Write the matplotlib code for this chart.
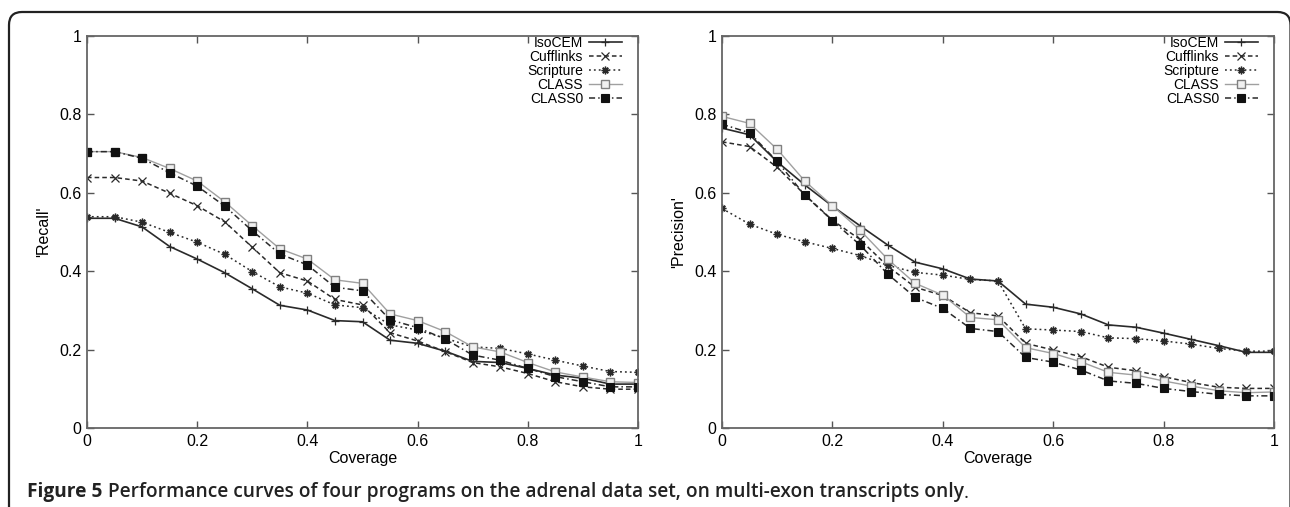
import matplotlib
matplotlib.use("Agg")
import matplotlib.pyplot as plt
from matplotlib.patches import FancyBboxPatch
from matplotlib.transforms import IdentityTransform

###
### Data
###
coverage = [0.00, 0.05, 0.10, 0.15, 0.20, 0.25, 0.30, 0.35, 0.40, 0.45, 0.50,
            0.55, 0.60, 0.65, 0.70, 0.75, 0.80, 0.85, 0.90, 0.95, 1.00]

names = ["IsoCEM", "Cufflinks", "Scripture", "CLASS", "CLASS0"]

recall_isocem    = [0.535, 0.535, 0.513, 0.463, 0.431, 0.396, 0.355, 0.313, 0.301, 0.274, 0.271,
                    0.224, 0.216, 0.196, 0.170, 0.167, 0.152, 0.135, 0.127, 0.112, 0.112]
recall_cufflinks = [0.639, 0.639, 0.630, 0.599, 0.567, 0.526, 0.461, 0.396, 0.375, 0.328, 0.314,
                    0.243, 0.222, 0.195, 0.167, 0.156, 0.139, 0.118, 0.105, 0.099, 0.099]
recall_scripture = [0.539, 0.539, 0.525, 0.499, 0.474, 0.443, 0.399, 0.360, 0.344, 0.314, 0.307,
                    0.263, 0.250, 0.229, 0.207, 0.203, 0.189, 0.173, 0.158, 0.144, 0.142]
recall_class     = [0.705, 0.705, 0.690, 0.662, 0.630, 0.577, 0.516, 0.457, 0.431, 0.378, 0.369,
                    0.291, 0.274, 0.246, 0.207, 0.194, 0.167, 0.143, 0.130, 0.118, 0.116]
recall_class0    = [0.705, 0.705, 0.688, 0.651, 0.617, 0.566, 0.503, 0.444, 0.416, 0.359, 0.350,
                    0.276, 0.256, 0.227, 0.186, 0.173, 0.152, 0.131, 0.118, 0.105, 0.105]

prec_isocem    = [0.765, 0.748, 0.679, 0.620, 0.566, 0.516, 0.467, 0.423, 0.406, 0.380, 0.375,
                  0.316, 0.308, 0.291, 0.263, 0.257, 0.242, 0.226, 0.210, 0.193, 0.193]
prec_cufflinks = [0.730, 0.718, 0.665, 0.595, 0.530, 0.481, 0.413, 0.359, 0.338, 0.294, 0.286,
                  0.216, 0.199, 0.182, 0.155, 0.146, 0.131, 0.116, 0.104, 0.101, 0.101]
prec_scripture = [0.560, 0.520, 0.494, 0.475, 0.458, 0.440, 0.415, 0.397, 0.390, 0.379, 0.375,
                  0.253, 0.250, 0.246, 0.230, 0.228, 0.222, 0.214, 0.203, 0.196, 0.196]
prec_class     = [0.795, 0.777, 0.711, 0.630, 0.567, 0.505, 0.431, 0.369, 0.339, 0.282, 0.276,
                  0.205, 0.190, 0.169, 0.142, 0.135, 0.120, 0.107, 0.095, 0.090, 0.092]
prec_class0    = [0.775, 0.753, 0.680, 0.594, 0.529, 0.467, 0.393, 0.333, 0.305, 0.254, 0.246,
                  0.180, 0.168, 0.148, 0.120, 0.114, 0.101, 0.093, 0.086, 0.082, 0.082]

ticks = [0, 0.2, 0.4, 0.6, 0.8, 1]
tick_labels = ["0", "0.2", "0.4", "0.6", "0.8", "1"]

###
### Styles
###
styles = [
    dict(color="#2a2a2a", lw=1.2, ls="-", marker="+", ms=6, mew=0.9),
    dict(color="#2a2a2a", lw=1.1, ls=(0, (3, 2)), marker="x", ms=6, mew=0.9),
    dict(color="#2a2a2a", lw=1.1, ls=(0, (1.2, 2)), marker=(8, 2, 0), ms=5.5, mew=1.0),
    dict(color="#a0a0a0", lw=1.0, ls="-", marker="s", ms=6, mew=1.0,
         mfc="#f0f0f0", mec="#808080"),
    dict(color="#2a2a2a", lw=1.1, ls=(0, (4, 2, 1, 2)), marker="s", ms=6, mew=0.8,
         mfc="#111111", mec="#111111"),
]

plots = [
    {"ylabel": "'Recall'",
     "series": [recall_isocem, recall_cufflinks, recall_scripture, recall_class, recall_class0],
     "rect": [87/1290, 79/507, 551/1290, 392/507]},
    {"ylabel": "'Precision'",
     "series": [prec_isocem, prec_cufflinks, prec_scripture, prec_class, prec_class0],
     "rect": [722/1290, 79/507, 552/1290, 392/507]},
]

tfont = ["Liberation Sans", "DejaVu Sans"]
tsize = 11.5

fig = plt.figure(figsize=(12.9, 5.07), dpi=100)

for item in plots:
    ax = fig.add_axes(item["rect"])
    for name, ys, st in zip(names, item["series"], styles):
        ax.plot(coverage, ys, label=name, **st)
    ax.set_xlim(0, 1)
    ax.set_ylim(0, 1)
    ax.set_xticks(ticks)
    ax.set_xticklabels(tick_labels, family=tfont, fontsize=tsize)
    ax.set_yticks(ticks)
    ax.set_yticklabels(tick_labels, family=tfont, fontsize=tsize)
    ax.tick_params(direction="in", length=5, width=1.0, color="#555555",
                   top=True, right=True, pad=4)
    for sp in ax.spines.values():
        sp.set_color("#666666")
        sp.set_linewidth(1.3)
    ax.set_xlabel("Coverage", family=tfont, fontsize=tsize, labelpad=2)
    ax.set_ylabel(item["ylabel"], family=tfont, fontsize=tsize, labelpad=6)
    ax.legend(loc="upper right", bbox_to_anchor=(1 - 16/551, 1.0),
              markerfirst=False, frameon=False, borderaxespad=0, borderpad=0,
              labelspacing=0.0, handlelength=2.4, handletextpad=0.4,
              prop={"family": tfont, "size": 10})

# rounded frame around the figure (top and left edges visible)
frame = FancyBboxPatch((9, -60), 1281.5, 507 - 12 + 60,
                       boxstyle="round,pad=0,rounding_size=13",
                       transform=IdentityTransform(), fill=False,
                       edgecolor="#222222", linewidth=1.6)
fig.add_artist(frame)

# caption
cfont = ["Open Sans", "DejaVu Sans"]
csize = 13.8
t1 = fig.text(27/1290, 10/507, "Figure 5", family=cfont, fontsize=csize,
              fontweight="bold", color="#222222", va="baseline")
t2 = fig.axes[0].annotate("Performance curves of four programs on the adrenal data set, on multi-exon transcripts only",
                          xy=(1, 0), xycoords=t1, xytext=(4, 0), textcoords="offset points",
                          va="bottom", ha="left", family=cfont, fontsize=csize,
                          fontweight="semibold", color="#222222", annotation_clip=False)
fig.axes[0].annotate(".", xy=(1, 0), xycoords=t2, xytext=(0, 0), textcoords="offset points",
                     va="bottom", ha="left", family=cfont, fontsize=csize,
                     fontweight="normal", color="#222222", annotation_clip=False)

fig.savefig("out.png", dpi=100)
